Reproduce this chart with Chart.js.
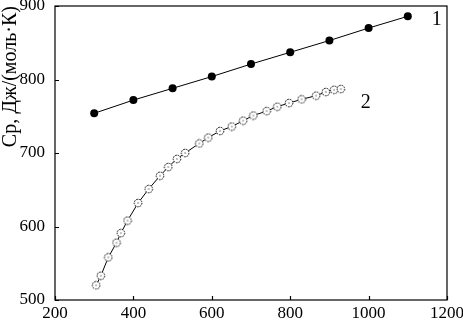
<!DOCTYPE html>
<html>
<head>
<meta charset="utf-8">
<script src="https://cdn.jsdelivr.net/npm/chart.js@4"></script>
<style>
  html, body { margin: 0; padding: 0; background: #fff; }
  #wrap { width: 463px; height: 325px; }
</style>
</head>
<body>
<div id="wrap"><canvas id="cpChart" width="463" height="325"></canvas></div>
<script>
// Series 1: filled dots
const tempsA = [300, 400, 500, 600, 700, 800, 900, 1000, 1100];
const cpA = [754, 772, 788, 804, 821, 837, 853, 870, 886];

// Series 2: open circles
const tempsB = [305, 317, 336, 357, 368, 385, 412, 439, 468, 489, 511, 532, 568, 591, 621, 651, 680, 706, 740, 767, 797, 829, 866, 891, 912, 929];
const cpB = [520, 533, 558, 578, 591, 608, 632, 651, 669, 681, 692, 700, 713, 721, 730, 736, 744, 751, 757, 763, 768, 773, 778, 783, 786, 787];

const xTicks = [200, 400, 600, 800, 1000, 1200];
const yTicks = [500, 600, 700, 800, 900];

// curve labels, placed in data units
const curveLabels = [
    { text: '1', x: 1174, y: 881 },
    { text: '2', x: 993, y: 768 }
];

const serif = '"Liberation Serif", "DejaVu Serif", serif';

// open circle with a dot in the middle
function makeOpenMarker() {
    const c = document.createElement('canvas');
    c.width = 10;
    c.height = 10;
    const g = c.getContext('2d');
    g.fillStyle = '#fff';
    g.beginPath();
    g.arc(5, 5, 3.8, 0, Math.PI * 2);
    g.fill();
    g.strokeStyle = '#000';
    g.lineWidth = 1;
    g.setLineDash([1.6, 1]);
    g.stroke();
    g.fillStyle = '#000';
    g.fillRect(4.5, 4.5, 1, 1);
    return c;
}

const toXY = (xs, ys) => xs.map((x, i) => ({ x: x, y: ys[i] }));

// frame, inward ticks and the 1/2 labels
const framePlugin = {
    id: 'frame',
    afterDraw(chart) {
        const ctx = chart.ctx;
        const a = chart.chartArea;
        const xs = chart.scales.x;
        const ys = chart.scales.y;
        ctx.save();
        ctx.strokeStyle = '#000';
        ctx.lineWidth = 1.2;
        ctx.strokeRect(a.left, a.top, a.right - a.left, a.bottom - a.top);
        ctx.beginPath();
        xTicks.forEach(v => {
            const px = Math.round(xs.getPixelForValue(v)) + 0.5;
            ctx.moveTo(px, a.bottom);
            ctx.lineTo(px, a.bottom - 4);
        });
        yTicks.forEach(v => {
            const py = Math.round(ys.getPixelForValue(v)) + 0.5;
            ctx.moveTo(a.left, py);
            ctx.lineTo(a.left + 4, py);
        });
        ctx.stroke();
        ctx.fillStyle = '#000';
        ctx.font = '20px ' + serif;
        ctx.textAlign = 'center';
        ctx.textBaseline = 'middle';
        curveLabels.forEach(l => {
            ctx.fillText(l.text, xs.getPixelForValue(l.x), ys.getPixelForValue(l.y));
        });
        ctx.restore();
    }
};

new Chart(document.getElementById('cpChart'), {
    type: 'scatter',
    data: {
        datasets: [
            {
                label: '1',
                data: toXY(tempsA, cpA),
                showLine: true,
                borderColor: '#000',
                borderWidth: 1,
                pointRadius: 4,
                pointBackgroundColor: '#000',
                pointBorderColor: '#000',
                pointBorderWidth: 0
            },
            {
                label: '2',
                data: toXY(tempsB, cpB),
                showLine: true,
                borderColor: '#000',
                borderWidth: 1,
                pointStyle: makeOpenMarker(),
                pointRadius: 4
            }
        ]
    },
    options: {
        responsive: false,
        animation: false,
        layout: { padding: { top: 6, right: 16, left: 0, bottom: 0 } },
        plugins: {
            legend: { display: false },
            tooltip: { enabled: false }
        },
        scales: {
            x: {
                type: 'linear',
                min: 200,
                max: 1200,
                afterBuildTicks: s => { s.ticks = xTicks.map(v => ({ value: v })); },
                afterFit: s => { s.height = 25; s.paddingLeft = 0; s.paddingRight = 0; },
                grid: { display: false, drawTicks: false },
                border: { display: false },
                ticks: {
                    color: '#000',
                    padding: 3,
                    maxRotation: 0,
                    callback: v => String(v),
                    font: { family: serif, size: 17 }
                }
            },
            y: {
                min: 500,
                max: 900,
                afterBuildTicks: s => { s.ticks = yTicks.map(v => ({ value: v })); },
                afterFit: s => { s.width = 55; s.paddingTop = 0; s.paddingBottom = 0; },
                grid: { display: false, drawTicks: false },
                border: { display: false },
                title: {
                    display: true,
                    text: 'Ср, Дж/(моль·К)',
                    align: 'end',
                    color: '#000',
                    padding: 0,
                    font: { family: serif, size: 20, lineHeight: 1.1 }
                },
                ticks: {
                    color: '#000',
                    padding: 10,
                    callback: v => String(v),
                    font: { family: serif, size: 17 }
                }
            }
        }
    },
    plugins: [framePlugin]
});
</script>
</body>
</html>
